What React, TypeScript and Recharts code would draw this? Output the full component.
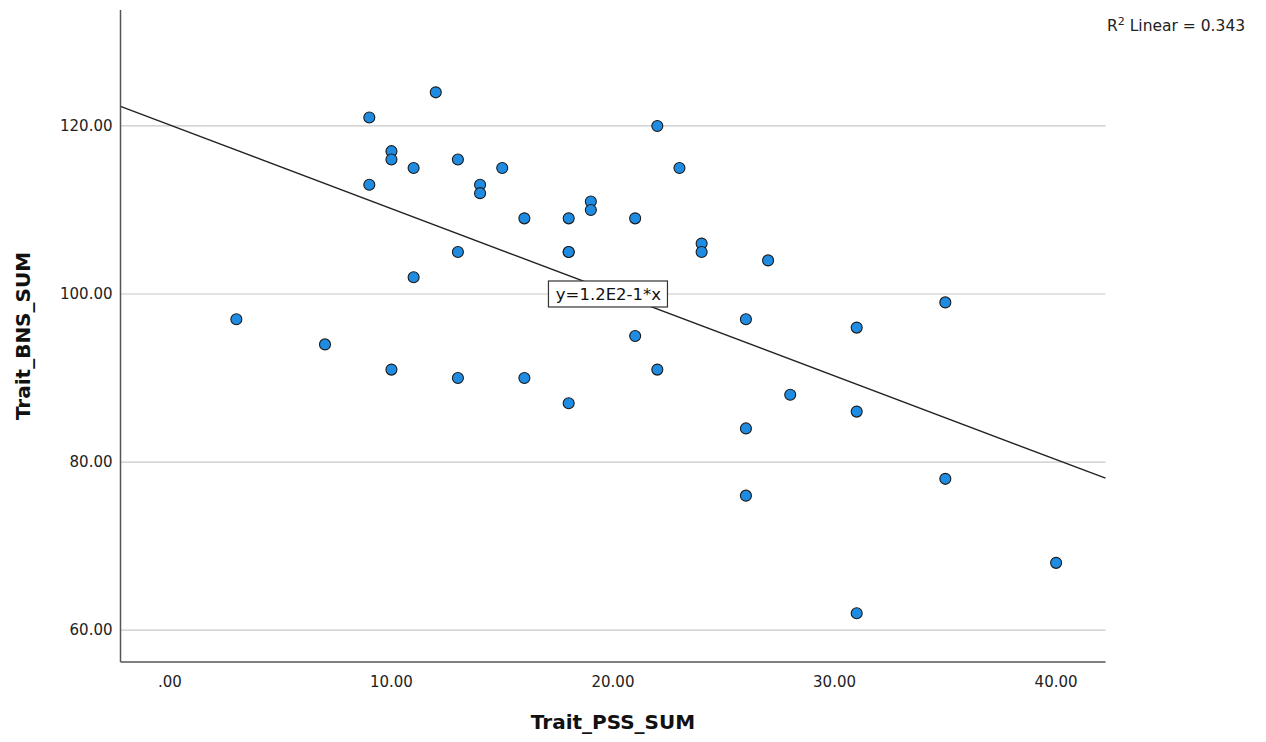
import React from "react";
import {
  ScatterChart,
  Scatter,
  XAxis,
  YAxis,
  CartesianGrid,
  ReferenceLine,
  ReferenceDot,
} from "recharts";

// Trait_PSS_SUM (x) and Trait_BNS_SUM (y), one entry per respondent
const pssValues = [
  3, 7, 9, 9, 10, 10, 10, 11, 11, 12, 13, 13, 13, 14, 14, 15, 16, 16, 18, 18,
  18, 18, 19, 19, 21, 21, 22, 22, 23, 24, 24, 26, 26, 26, 27, 28, 31, 31, 31,
  35, 35, 40,
];
const bnsValues = [
  97, 94, 121, 113, 117, 116, 91, 115, 102, 124, 116, 105, 90, 113, 112, 115,
  109, 90, 109, 105, 105, 87, 111, 110, 109, 95, 120, 91, 115, 106, 105, 97, 84,
  76, 104, 88, 96, 86, 62, 99, 78, 68,
];

const xTicks = [0, 10, 20, 30, 40];
const yTicks = [60, 80, 100, 120];

const xDomain: [number, number] = [-2.23, 42.23];
const yDomain: [number, number] = [56.2, 133.8];

// linear fit shown in the chart
const fitIntercept = 120.1;
const fitSlope = -0.995;
const fitLabel = "y=1.2E2-1*x";
const fitLabelAt = { x: 19.75, y: 100 };
const rSquared = "0.343";

const data = pssValues.map((x, i) => ({ x, y: bnsValues[i] }));

const fmt = (v: number) => (v === 0 ? ".00" : v.toFixed(2));

const FONT = "'DejaVu Sans', sans-serif";

const Dot = (props: any) => {
  const { cx, cy } = props;
  return (
    <circle cx={cx} cy={cy} r={5.5} fill="#1f8ce3" stroke="#1a1a1a" strokeWidth={1.1} />
  );
};

const FitBox = (props: any) => {
  const { cx, cy } = props;
  return (
    <g>
      <rect x={cx - 59} y={cy - 13} width={119} height={26} fill="#fff" stroke="#333" strokeWidth={1.2} />
      <text x={cx + 1} y={cy + 6} textAnchor="middle" fontSize={16.5} fontFamily={FONT} fill="#111">
        {fitLabel}
      </text>
    </g>
  );
};

export default function App() {
  return (
    <div style={{ position: "relative", width: 1250, height: 726, fontFamily: FONT }}>
      <ScatterChart
        width={1250}
        height={726}
        margin={{ top: 2, right: 152.5, bottom: 0, left: 0 }}
      >
        <CartesianGrid
          vertical={false}
          horizontalValues={yTicks}
          stroke="#c8c8c8"
          strokeWidth={1.2}
        />
        <XAxis
          type="number"
          dataKey="x"
          domain={xDomain}
          ticks={xTicks}
          tickFormatter={fmt}
          allowDataOverflow
          height={72}
          tickLine={false}
          tickSize={0}
          tickMargin={14}
          axisLine={{ stroke: "#555", strokeWidth: 1.5 }}
          tick={{ fill: "#222", fontSize: 15, fontFamily: FONT }}
          label={{
            value: "Trait_PSS_SUM",
            position: "insideBottom",
            offset: 5,
            style: { fontSize: 20, fontWeight: "bold", fill: "#111", fontFamily: FONT },
          }}
        />
        <YAxis
          type="number"
          dataKey="y"
          domain={yDomain}
          ticks={yTicks}
          tickFormatter={fmt}
          allowDataOverflow
          width={112.5}
          tickLine={false}
          tickSize={0}
          tickMargin={8}
          axisLine={{ stroke: "#555", strokeWidth: 1.5 }}
          tick={{ fill: "#222", fontSize: 15, fontFamily: FONT }}
          label={{
            value: "Trait_BNS_SUM",
            angle: -90,
            position: "insideLeft",
            offset: 15,
            style: {
              textAnchor: "middle",
              fontSize: 20,
              fontWeight: "bold",
              fill: "#111",
              fontFamily: FONT,
            },
          }}
        />
        <ReferenceLine
          segment={[
            { x: xDomain[0], y: fitIntercept + fitSlope * xDomain[0] },
            { x: xDomain[1], y: fitIntercept + fitSlope * xDomain[1] },
          ]}
          stroke="#222"
          strokeWidth={1.4}
          ifOverflow="visible"
        />
        <Scatter data={data} shape={<Dot />} isAnimationActive={false} />
        <ReferenceDot x={fitLabelAt.x} y={fitLabelAt.y} shape={<FitBox />} ifOverflow="visible" />
      </ScatterChart>
      <div
        style={{
          position: "absolute",
          left: 1099,
          top: 7,
          fontSize: 15.5,
          color: "#222",
          whiteSpace: "nowrap",
        }}
      >
        R<sup style={{ fontSize: 11 }}>2</sup> Linear = {rSquared}
      </div>
    </div>
  );
}
